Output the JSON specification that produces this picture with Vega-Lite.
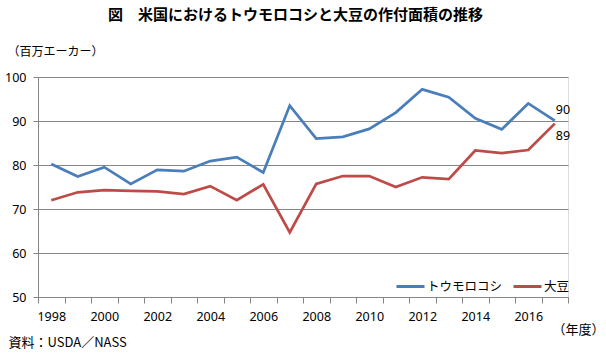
{
  "$schema": "https://vega.github.io/schema/vega-lite/v6.json",
  "width": 530,
  "height": 220,
  "autosize": {"type": "none"},
  "padding": {"left": 38, "top": 77, "right": 38, "bottom": 61},
  "background": "white",
  "title": {
    "text": "図　米国におけるトウモロコシと大豆の作付面積の推移",
    "font": "Noto Sans CJK JP",
    "fontSize": 15,
    "fontWeight": "bold",
    "color": "black",
    "anchor": "start",
    "frame": "group",
    "dx": 70,
    "offset": 0,
    "baseline": "middle",
    "dy": -15
  },
  "data": {
    "values": [
      {"year": 1998, "crop": "トウモロコシ", "value": 80.2},
      {"year": 1999, "crop": "トウモロコシ", "value": 77.4},
      {"year": 2000, "crop": "トウモロコシ", "value": 79.5},
      {"year": 2001, "crop": "トウモロコシ", "value": 75.7},
      {"year": 2002, "crop": "トウモロコシ", "value": 78.9},
      {"year": 2003, "crop": "トウモロコシ", "value": 78.6},
      {"year": 2004, "crop": "トウモロコシ", "value": 80.9},
      {"year": 2005, "crop": "トウモロコシ", "value": 81.8},
      {"year": 2006, "crop": "トウモロコシ", "value": 78.3},
      {"year": 2007, "crop": "トウモロコシ", "value": 93.5},
      {"year": 2008, "crop": "トウモロコシ", "value": 86.0},
      {"year": 2009, "crop": "トウモロコシ", "value": 86.4},
      {"year": 2010, "crop": "トウモロコシ", "value": 88.2},
      {"year": 2011, "crop": "トウモロコシ", "value": 91.9},
      {"year": 2012, "crop": "トウモロコシ", "value": 97.2},
      {"year": 2013, "crop": "トウモロコシ", "value": 95.4},
      {"year": 2014, "crop": "トウモロコシ", "value": 90.6},
      {"year": 2015, "crop": "トウモロコシ", "value": 88.1},
      {"year": 2016, "crop": "トウモロコシ", "value": 94.0},
      {"year": 2017, "crop": "トウモロコシ", "value": 90.1},
      {"year": 1998, "crop": "大豆", "value": 72.0},
      {"year": 1999, "crop": "大豆", "value": 73.8},
      {"year": 2000, "crop": "大豆", "value": 74.3},
      {"year": 2001, "crop": "大豆", "value": 74.1},
      {"year": 2002, "crop": "大豆", "value": 74.0},
      {"year": 2003, "crop": "大豆", "value": 73.4},
      {"year": 2004, "crop": "大豆", "value": 75.2},
      {"year": 2005, "crop": "大豆", "value": 72.0},
      {"year": 2006, "crop": "大豆", "value": 75.6},
      {"year": 2007, "crop": "大豆", "value": 64.7},
      {"year": 2008, "crop": "大豆", "value": 75.7},
      {"year": 2009, "crop": "大豆", "value": 77.5},
      {"year": 2010, "crop": "大豆", "value": 77.5},
      {"year": 2011, "crop": "大豆", "value": 75.0},
      {"year": 2012, "crop": "大豆", "value": 77.2},
      {"year": 2013, "crop": "大豆", "value": 76.8},
      {"year": 2014, "crop": "大豆", "value": 83.3},
      {"year": 2015, "crop": "大豆", "value": 82.7},
      {"year": 2016, "crop": "大豆", "value": 83.4},
      {"year": 2017, "crop": "大豆", "value": 89.4}
    ]
  },
  "resolve": {"axis": {"x": "independent"}},
  "layer": [
    {
      "mark": {"type": "line", "strokeWidth": 2.75},
      "encoding": {
        "x": {
          "field": "year",
          "type": "ordinal",
          "scale": {"type": "band", "paddingInner": 0, "paddingOuter": 0},
          "axis": {
            "orient": "bottom",
            "tickBand": "extent",
            "labelAngle": 0,
            "labelExpr": "datum.value % 2 == 0 ? datum.label : ''",
            "labelOverlap": false,
            "labelFont": "Noto Sans",
            "labelFontSize": 12.5,
            "labelColor": "black",
            "labelPadding": 7,
            "tickSize": 6,
            "tickColor": "#868686",
            "domainColor": "#868686",
            "grid": false,
            "title": "（年度）",
            "titleFont": "Noto Sans CJK JP",
            "titleFontSize": 13,
            "titleFontWeight": "normal",
            "titleColor": "black",
            "titleAlign": "center",
            "titleBaseline": "middle",
            "titleX": 540,
            "titleY": 32
          }
        },
        "y": {
          "field": "value",
          "type": "quantitative",
          "scale": {"domain": [50, 100], "nice": false, "zero": false},
          "axis": {
            "values": [50, 60, 70, 80, 90, 100],
            "labelFont": "Noto Sans",
            "labelFontSize": 12.5,
            "labelColor": "black",
            "labelPadding": 7,
            "tickSize": 5,
            "tickColor": "#868686",
            "domainColor": "#868686",
            "gridColor": "#868686",
            "gridWidth": 1,
            "title": "（百万エーカー）",
            "titleFont": "Noto Sans CJK JP",
            "titleFontSize": 12,
            "titleFontWeight": "normal",
            "titleColor": "black",
            "titleAngle": 0,
            "titleAlign": "left",
            "titleBaseline": "middle",
            "titleX": -31,
            "titleY": -26
          }
        },
        "color": {
          "field": "crop",
          "type": "nominal",
          "scale": {"domain": ["トウモロコシ", "大豆"], "range": ["#4A7EBB", "#BE4B48"]},
          "legend": {
            "orient": "none",
            "legendX": 357,
            "legendY": 194,
            "direction": "horizontal",
            "title": null,
            "symbolType": "stroke",
            "symbolSize": 784,
            "symbolStrokeWidth": 3,
            "labelFont": "Noto Sans CJK JP",
            "labelFontSize": 12.5,
            "labelColor": "black",
            "labelOffset": 1,
            "columnPadding": 4
          }
        }
      }
    },
    {
      "transform": [{"filter": "datum.year == 2017 && datum.crop == 'トウモロコシ'"}],
      "mark": {"type": "text", "align": "left", "baseline": "middle", "dx": 1, "dy": -11, "font": "Noto Sans", "fontSize": 12.5, "color": "black"},
      "encoding": {
        "x": {
          "field": "year",
          "type": "ordinal",
          "axis": {
            "orient": "bottom",
            "domain": false,
            "ticks": false,
            "labels": false,
            "grid": false,
            "title": "資料：USDA／NASS",
            "titleFont": "Noto Sans CJK JP",
            "titleFontSize": 13,
            "titleFontWeight": "normal",
            "titleColor": "black",
            "titleAlign": "left",
            "titleBaseline": "middle",
            "titleX": -30,
            "titleY": 45
          }
        },
        "y": {"field": "value", "type": "quantitative"},
        "text": {"field": "value", "type": "quantitative", "format": ".0f"}
      }
    },
    {
      "transform": [{"filter": "datum.year == 2017 && datum.crop == '大豆'"}],
      "mark": {"type": "text", "align": "left", "baseline": "middle", "dx": 1, "dy": 12, "font": "Noto Sans", "fontSize": 12.5, "color": "black"},
      "encoding": {
        "x": {"field": "year", "type": "ordinal", "axis": null},
        "y": {"field": "value", "type": "quantitative"},
        "text": {"field": "value", "type": "quantitative", "format": ".0f"}
      }
    }
  ]
}
